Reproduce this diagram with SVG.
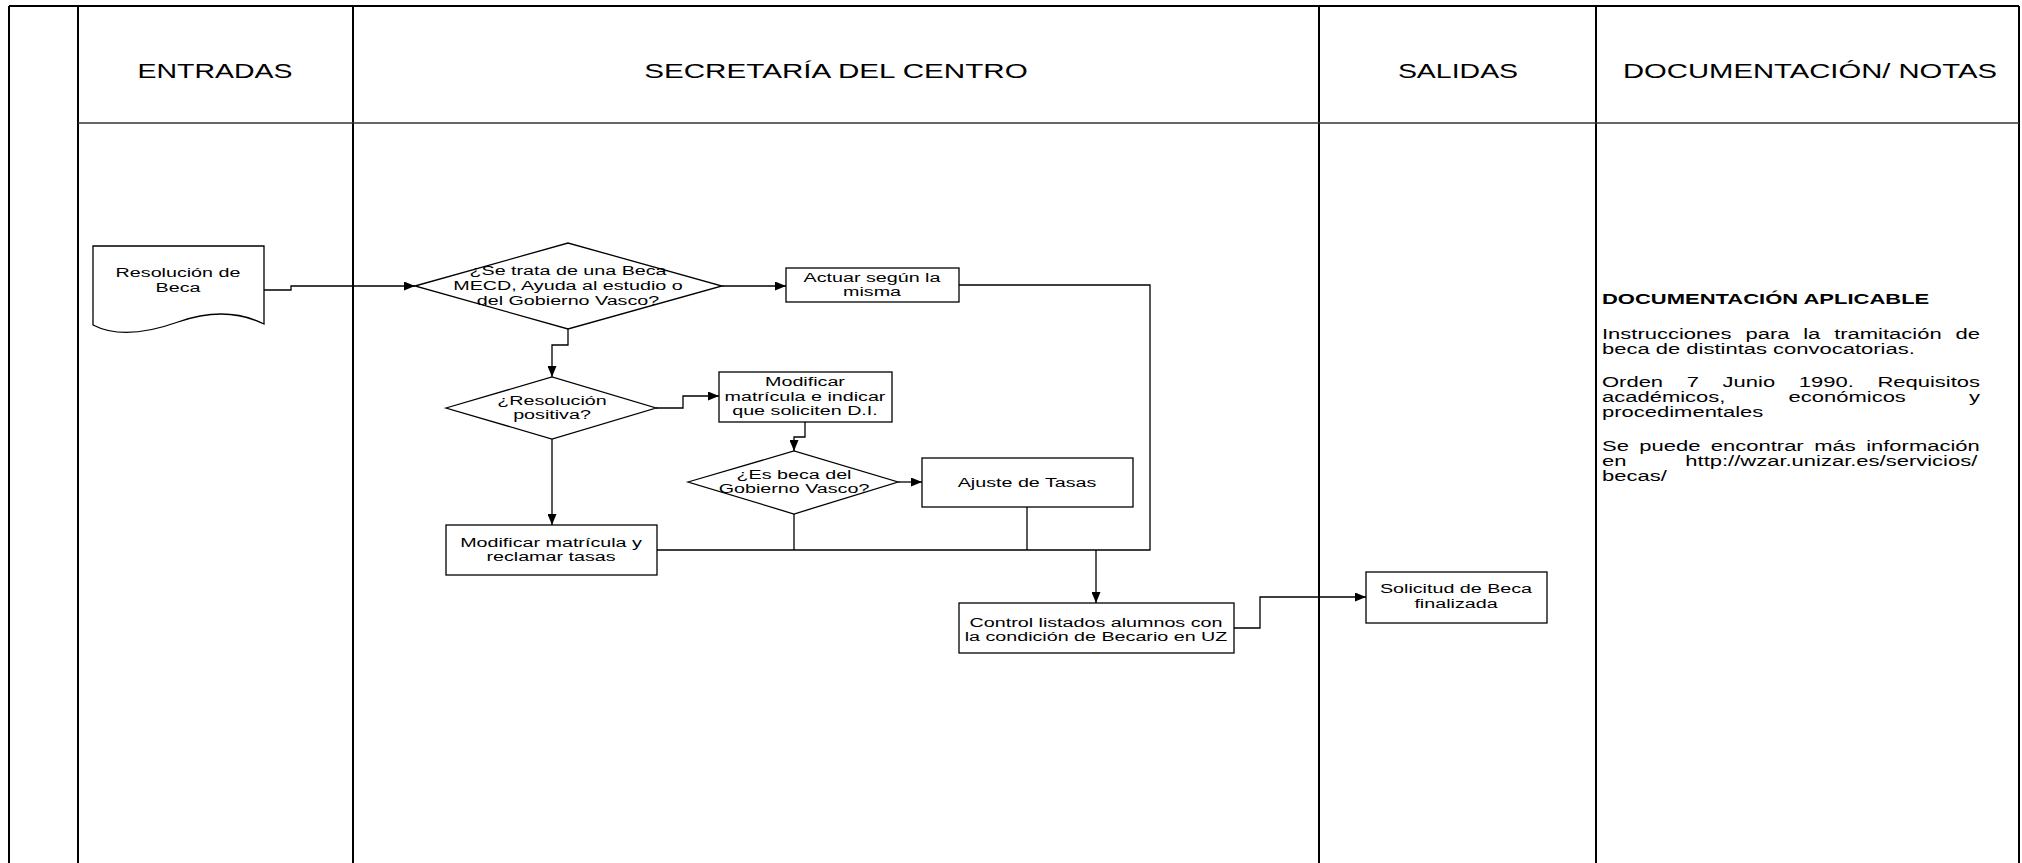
<svg xmlns="http://www.w3.org/2000/svg" width="2022" height="863" viewBox="0 0 2022 863">
<style>
.lane{stroke:#000;stroke-width:2;fill:none}
.hline{stroke:#333;stroke-width:1.5;fill:none}
.node{fill:#fff;stroke:#000;stroke-width:1.3}
.c{fill:none;stroke:#000;stroke-width:1.3}
.arr{marker-end:url(#ah)}
text{font-family:"Liberation Sans",Arial,sans-serif;fill:#000}
.t{font-size:13.5px;text-anchor:middle}
.h{font-size:19.5px;text-anchor:middle}
.doc{font-size:15px}
.b{font-weight:bold}
</style>
<defs>
<marker id="ah" markerUnits="userSpaceOnUse" markerWidth="11" markerHeight="9" refX="11" refY="4.5" orient="auto">
<path d="M0,0 L11,4.5 L0,9 z" fill="#000"/>
</marker>
</defs>
<rect width="2022" height="863" fill="#fff"/>
<g id="lanes">
<path class="lane" d="M9,6 V863 M78,6 V863 M353,6 V863 M1319,6 V863 M1596,6 V863 M2019,6 V863"/>
<path class="lane" d="M9,6 H2019"/>
<path class="hline" d="M78,123 H2019"/>
<text class="h" transform="translate(215,0) scale(1.46,1)"><tspan x="0" y="78">ENTRADAS</tspan></text>
<text class="h" transform="translate(836,0) scale(1.52,1)"><tspan x="0" y="78">SECRETARÍA DEL CENTRO</tspan></text>
<text class="h" transform="translate(1458,0) scale(1.46,1)"><tspan x="0" y="78">SALIDAS</tspan></text>
<text class="h" transform="translate(1810,0) scale(1.5,1)"><tspan x="0" y="78">DOCUMENTACIÓN/ NOTAS</tspan></text>
</g>
<g id="connectors">
<path class="c arr" d="M264,290 H291 V286 H415"/>
<path class="c arr" d="M568,329 V345 H552 V377"/>
<path class="c arr" d="M722,286 H786"/>
<path class="c arr" d="M656,408 H683 V396 H719"/>
<path class="c arr" d="M805,422 V437 H794 V451"/>
<path class="c arr" d="M898,482 H922"/>
<path class="c arr" d="M552,439 V525"/>
<path class="c" d="M657,550 H1150 V285 H959"/>
<path class="c" d="M794,514 V550"/>
<path class="c" d="M1027,507 V550"/>
<path class="c arr" d="M1096,550 V603"/>
<path class="c arr" d="M1234,628 H1260 V597 H1366"/>
</g>
<g id="n-resolucion">
<path class="node" d="M93,246 H264 V324 C240,312 212,310 178,322 C150,332 118,338 93,325 Z"/>
<text class="t" transform="translate(178,0) scale(1.46,1)"><tspan x="0" y="277">Resolución de</tspan><tspan x="0" y="292">Beca</tspan></text>
</g>
<g id="n-d1">
<path class="node" d="M415,286 L568,243 L722,286 L568,329 Z"/>
<text class="t" transform="translate(568,0) scale(1.46,1)"><tspan x="0" y="275">¿Se trata de una Beca</tspan><tspan x="0" y="290">MECD, Ayuda al estudio o</tspan><tspan x="0" y="305">del Gobierno Vasco?</tspan></text>
</g>
<g id="n-actuar">
<rect class="node" x="786" y="268" width="173" height="34"/>
<text class="t" transform="translate(872,0) scale(1.46,1)"><tspan x="0" y="282">Actuar según la</tspan><tspan x="0" y="296">misma</tspan></text>
</g>
<g id="n-d2">
<path class="node" d="M446,408 L552,377 L656,408 L552,439 Z"/>
<text class="t" transform="translate(552,0) scale(1.46,1)"><tspan x="0" y="405">¿Resolución</tspan><tspan x="0" y="419">positiva?</tspan></text>
</g>
<g id="n-modificar-di">
<rect class="node" x="719" y="372" width="173" height="50"/>
<text class="t" transform="translate(805,0) scale(1.46,1)"><tspan x="0" y="386">Modificar</tspan><tspan x="0" y="401">matrícula e indicar</tspan><tspan x="0" y="415">que soliciten D.I.</tspan></text>
</g>
<g id="n-d3">
<path class="node" d="M688,482 L794,451 L898,482 L794,514 Z"/>
<text class="t" transform="translate(794,0) scale(1.46,1)"><tspan x="0" y="479">¿Es beca del</tspan><tspan x="0" y="493">Gobierno Vasco?</tspan></text>
</g>
<g id="n-ajuste">
<rect class="node" x="922" y="458" width="211" height="49"/>
<text class="t" transform="translate(1027,0) scale(1.46,1)"><tspan x="0" y="487">Ajuste de Tasas</tspan></text>
</g>
<g id="n-modificar-tasas">
<rect class="node" x="446" y="525" width="211" height="50"/>
<text class="t" transform="translate(551,0) scale(1.46,1)"><tspan x="0" y="547">Modificar matrícula y</tspan><tspan x="0" y="561">reclamar tasas</tspan></text>
</g>
<g id="n-control">
<rect class="node" x="959" y="603" width="275" height="50"/>
<text class="t" transform="translate(1096,0) scale(1.46,1)"><tspan x="0" y="627">Control listados alumnos con</tspan><tspan x="0" y="641">la condición de Becario en UZ</tspan></text>
</g>
<g id="n-solicitud">
<rect class="node" x="1366" y="572" width="181" height="51"/>
<text class="t" transform="translate(1456,0) scale(1.46,1)"><tspan x="0" y="593">Solicitud de Beca</tspan><tspan x="0" y="608">finalizada</tspan></text>
</g>
<g id="n-doc">
<text class="doc" transform="translate(1602,0) scale(1.4667,1)">
<tspan class="b" x="0" y="304">DOCUMENTACIÓN APLICABLE</tspan>
<tspan x="0" y="339">Instrucciones</tspan><tspan x="97.8" y="339">para</tspan><tspan x="137.2" y="339">la</tspan><tspan x="158.3" y="339">tramitación</tspan><tspan x="241.1" y="339">de</tspan>
<tspan x="0" y="354">beca de distintas convocatorias.</tspan>
<tspan x="0" y="387">Orden</tspan><tspan x="57.8" y="387">7</tspan><tspan x="82.2" y="387">Junio</tspan><tspan x="134.2" y="387">1990.</tspan><tspan x="187.8" y="387">Requisitos</tspan>
<tspan x="0" y="402">académicos,</tspan><tspan x="127.2" y="402">económicos</tspan><tspan x="250.2" y="402">y</tspan>
<tspan x="0" y="417">procedimentales</tspan>
<tspan x="0" y="451">Se</tspan><tspan x="25.4" y="451">puede</tspan><tspan x="74.2" y="451">encontrar</tspan><tspan x="144.7" y="451">más</tspan><tspan x="180.1" y="451">información</tspan>
<tspan x="0" y="466">en</tspan><tspan x="56.8" y="466">http://wzar.unizar.es/servicios/</tspan>
<tspan x="0" y="481">becas/</tspan>
</text>
</g>
</svg>
